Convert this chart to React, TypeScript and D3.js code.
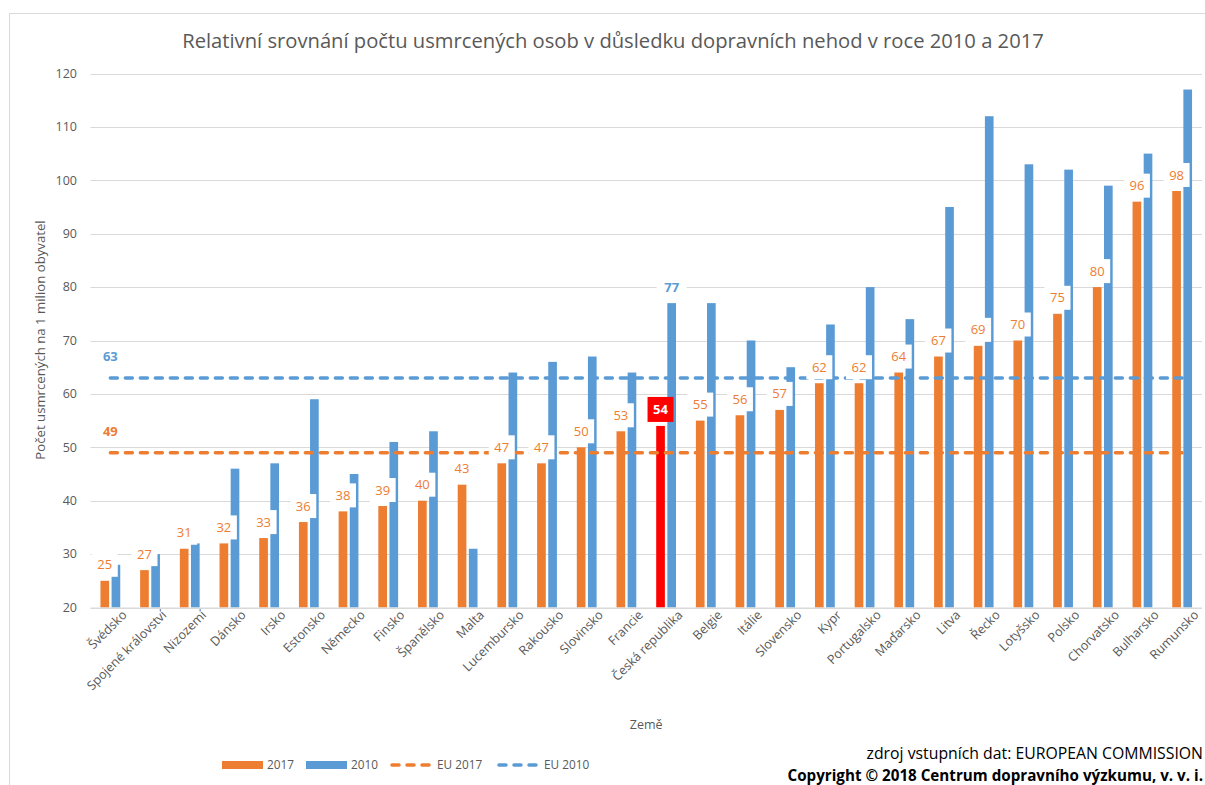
import * as d3 from 'd3';

const countries = [
  'Švédsko', 'Spojené království', 'Nizozemí', 'Dánsko', 'Irsko', 'Estonsko', 'Německo',
  'Finsko', 'Španělsko', 'Malta', 'Lucembursko', 'Rakousko', 'Slovinsko', 'Francie',
  'Česká republika', 'Belgie', 'Itálie', 'Slovensko', 'Kypr', 'Portugalsko', 'Maďarsko',
  'Litva', 'Řecko', 'Lotyšsko', 'Polsko', 'Chorvatsko', 'Bulharsko', 'Rumunsko',
];
const values2017 = [25, 27, 31, 32, 33, 36, 38, 39, 40, 43, 47, 47, 50, 53, 54, 55, 56, 57, 62, 62, 64, 67, 69, 70, 75, 80, 96, 98];
const values2010 = [28, 30, 32, 46, 47, 59, 45, 51, 53, 31, 64, 66, 67, 64, 77, 77, 70, 65, 73, 80, 74, 95, 112, 103, 102, 99, 105, 117];
const eu2017 = 49;
const eu2010 = 63;
const yTicks = [20, 30, 40, 50, 60, 70, 80, 90, 100, 110, 120];
const highlight = 'Česká republika';
const seriesKeys = ['2017', '2010'];

const ORANGE = '#ED7D31';
const BLUE = '#5B9BD5';
const RED = '#FF0000';
const GRAY = '#595959';
const FONT = '"Open Sans", sans-serif';

const W = 1205;
const H = 785;
const plot = { left: 90.5, right: 1202, top: 73.5, bottom: 607.5 };

export default function App() {
  const x = d3.scaleBand<string>().domain(countries).range([plot.left, plot.right]);
  const bw = x.bandwidth();
  const xs = d3.scaleBand<string>()
    .domain(seriesKeys)
    .range([bw / 2 - 9.9, bw / 2 + 9.9])
    .paddingInner(0.22);
  const y = d3.scaleLinear().domain([20, 120]).range([plot.bottom, plot.top]);
  const cx = (c: string) => (x(c) ?? 0) + bw / 2;
  const first = countries[0];
  const last = countries[countries.length - 1];
  const hi = countries.indexOf(highlight);

  // label boxes for 2017, drawn above bars
  const labels2017 = countries.map((c, i) => {
    const mid = (x(c) ?? 0) + (xs('2017') ?? 0) + xs.bandwidth() / 2;
    return { c, v: values2017[i], mid, top: y(values2017[i]) };
  });
  const czMid = (x(highlight) ?? 0) + (xs('2010') ?? 0) + xs.bandwidth() / 2;

  return (
    <svg width={W} height={H} style={{ position: 'absolute', left: 0, top: 0, background: '#fff' }}
      fontFamily={FONT}>
      <rect x={9.5} y={13.5} width={1300} height={900} fill="#fff" stroke="#d9d9d9" />

      <text x={613} y={48} textAnchor="middle" fontSize={20.2} fill={GRAY}>
        Relativní srovnání počtu usmrcených osob v důsledku dopravních nehod v roce 2010 a 2017
      </text>

      {/* grid + y ticks */}
      {yTicks.map(t => (
        <g key={t}>
          <line x1={plot.left} x2={plot.right} y1={Math.round(y(t)) + 0.5} y2={Math.round(y(t)) + 0.5}
            stroke="#d9d9d9" strokeWidth={1} />
          <text x={77} y={y(t)} dy="0.35em" textAnchor="end" fontSize={12.5} fill={GRAY}>{t}</text>
        </g>
      ))}

      <text transform={`translate(45,340) rotate(-90)`} textAnchor="middle" fontSize={13.2} fill={GRAY}>
        Počet usmrcených na 1 milion obyvatel
      </text>

      {/* bars */}
      {countries.map((c, i) => (
        <g key={c} transform={`translate(${x(c)},0)`}>
          <rect x={xs('2017')} width={xs.bandwidth()} y={y(values2017[i])}
            height={plot.bottom - y(values2017[i])} fill={c === highlight ? RED : ORANGE} />
          <rect x={xs('2010')} width={xs.bandwidth()} y={y(values2010[i])}
            height={plot.bottom - y(values2010[i])} fill={BLUE} />
        </g>
      ))}

      {/* EU averages */}
      <line x1={cx(first)} x2={cx(last)} y1={y(eu2017)} y2={y(eu2017)} stroke={ORANGE}
        strokeWidth={3.5} strokeDasharray="7,8" strokeLinecap="round" />
      <line x1={cx(first)} x2={cx(last)} y1={y(eu2010)} y2={y(eu2010)} stroke={BLUE}
        strokeWidth={3.5} strokeDasharray="7,8" strokeLinecap="round" />
      <text x={cx(first)} y={y(eu2010) - 21} dy="0.35em" textAnchor="middle" fontSize={13}
        fontWeight="bold" fill={BLUE}>{eu2010}</text>
      <text x={cx(first)} y={y(eu2017) - 21} dy="0.35em" textAnchor="middle" fontSize={13}
        fontWeight="bold" fill={ORANGE}>{eu2017}</text>

      {/* data labels */}
      {labels2017.map((d, i) => (
        <g key={d.c}>
          <rect x={d.mid - 13} y={d.top - (i === hi ? 29 : 28)} width={26} height={i === hi ? 25 : 24}
            fill={i === hi ? RED : '#fff'} />
          <text x={d.mid} y={d.top - 16} dy="0.35em" textAnchor="middle" fontSize={13}
            fontWeight={i === hi ? 'bold' : 'normal'} fill={i === hi ? '#fff' : ORANGE}>{d.v}</text>
        </g>
      ))}
      <rect x={czMid - 15} y={y(values2010[hi]) - 28} width={30} height={24} fill="#fff" />
      <text x={czMid} y={y(values2010[hi]) - 16} dy="0.35em" textAnchor="middle" fontSize={13}
        fontWeight="bold" fill={BLUE}>{values2010[hi]}</text>

      {/* x axis */}
      <line x1={plot.left} x2={plot.right} y1={plot.bottom + 0.5} y2={plot.bottom + 0.5} stroke="#d9d9d9" />
      {countries.map(c => (
        <text key={c} transform={`translate(${cx(c) + 11},${plot.bottom + 2}) rotate(-45)`}
          textAnchor="end" dy="0.7em" fontSize={12.6} fill={GRAY}>{c}</text>
      ))}
      <text x={(plot.left + plot.right) / 2} y={729} textAnchor="middle" fontSize={12.5} fill={GRAY}>Země</text>

      {/* legend */}
      <g fontSize={11.8} fill={GRAY}>
        <rect x={222} y={761} width={41} height={8} fill={ORANGE} />
        <text x={267} y={769}>2017</text>
        <rect x={306} y={761} width={41} height={8} fill={BLUE} />
        <text x={351} y={769}>2010</text>
        <line x1={392} x2={430} y1={765} y2={765} stroke={ORANGE} strokeWidth={3.5}
          strokeDasharray="7,8" strokeLinecap="round" />
        <text x={437} y={769}>EU 2017</text>
        <line x1={499} x2={537} y1={765} y2={765} stroke={BLUE} strokeWidth={3.5}
          strokeDasharray="7,8" strokeLinecap="round" />
        <text x={544} y={769}>EU 2010</text>
      </g>

      {/* source */}
      <text x={1203} y={759} textAnchor="end" fontSize={15.8} fill="#000">
        zdroj vstupních dat: EUROPEAN COMMISSION
      </text>
      <text x={1203} y={781} textAnchor="end" fontSize={15.2} fontWeight="bold" fill="#000">
        Copyright © 2018 Centrum dopravního výzkumu, v. v. i.
      </text>
    </svg>
  );
}
